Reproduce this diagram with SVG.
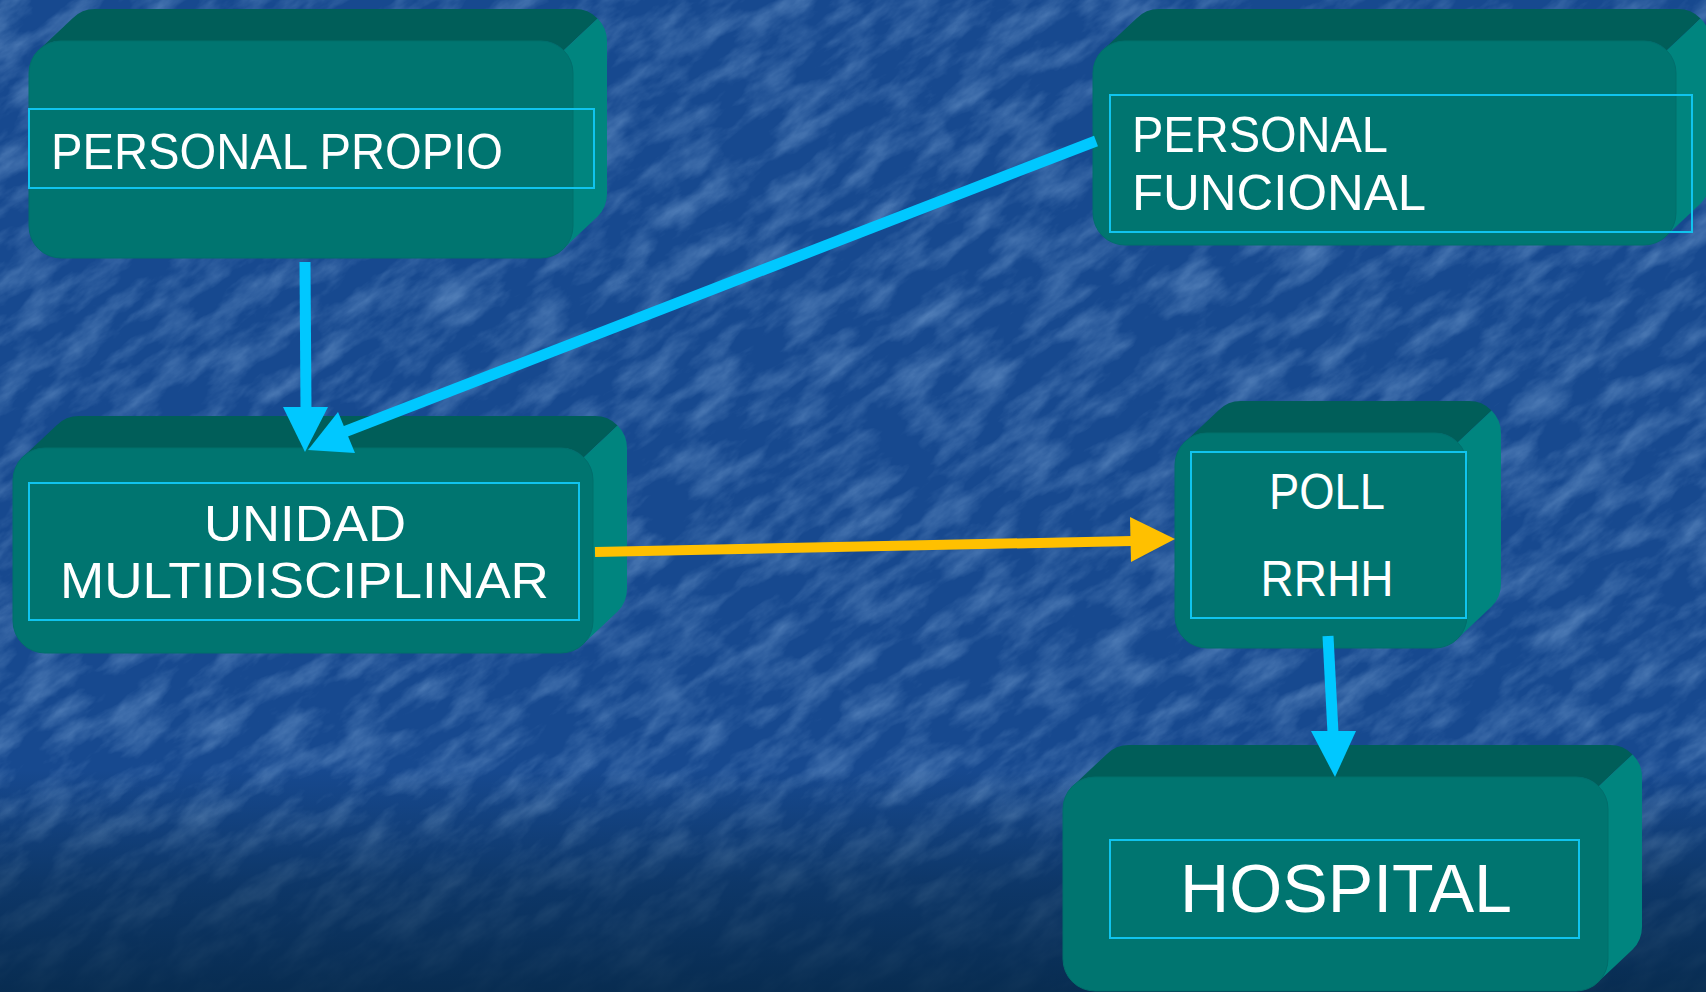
<svg xmlns="http://www.w3.org/2000/svg" width="1706" height="992" viewBox="0 0 1706 992">
<defs>
<style>
.top{fill:#005e59}
.side{fill:#00857f}
.front{fill:#007570;stroke:#00706b;stroke-width:1}
.inner{fill:none;stroke:#10c4ee;stroke-width:2}
.lbl{font-family:"Liberation Sans",Arial,sans-serif;fill:#ffffff;font-size:50px}
.blue{stroke:#00c8ff;stroke-width:11;fill:none}
.bluehead{fill:#00c8ff}
.yellow{stroke:#ffc000;stroke-width:10;fill:none}
.yellowhead{fill:#ffc000}
</style>
<filter id="tex" x="-50%" y="-50%" width="200%" height="200%" filterUnits="objectBoundingBox">
<feTurbulence type="fractalNoise" baseFrequency="0.018 0.045" numOctaves="5" seed="11"/>
<feColorMatrix type="matrix" values="0 0 0 0 0.26  0 0 0 0 0.46  0 0 0 0 0.76  0.9 0 0 0 -0.36"/>
</filter>
<linearGradient id="dark" x1="0" y1="0" x2="0" y2="1">
<stop offset="0" stop-color="#06294a" stop-opacity="0"/>
<stop offset="0.5" stop-color="#06294a" stop-opacity="0.55"/>
<stop offset="1" stop-color="#06294a" stop-opacity="0.9"/>
</linearGradient>
</defs>

<g id="background">
<rect x="0" y="0" width="1706" height="992" fill="#17498f"/>
<g transform="rotate(-35 853 496)">
<rect x="-600" y="-600" width="2906" height="2192" filter="url(#tex)"/>
</g>
<rect x="0" y="770" width="1706" height="222" fill="url(#dark)"/>
</g>

<g id="node-personal-propio" transform="translate(29,41)">
<path class="top" d="M9.4,9.4 L43.4,-22.6 A32,32 0 0 1 66,-32 L546,-32 A32,32 0 0 1 568.6,-22.6 L534.6,9.4 A32,32 0 0 0 512,0 L32,0 A32,32 0 0 0 9.4,9.4 Z"/>
<path class="side" d="M534.6,9.4 L568.6,-22.6 A32,32 0 0 1 578,0 L578,153 A32,32 0 0 1 568.6,175.6 L534.6,207.6 A32,32 0 0 0 544,185 L544,32 A32,32 0 0 0 534.6,9.4 Z"/>
<rect class="front" x="0" y="0" width="544" height="217" rx="32"/>
<rect class="inner" x="0" y="68" width="565" height="79"/>
<text class="lbl" x="22" y="128" textLength="452" lengthAdjust="spacingAndGlyphs">PERSONAL PROPIO</text>
</g>

<g id="node-personal-funcional" transform="translate(1093,41)">
<path class="top" d="M9.4,9.4 L43.4,-22.6 A32,32 0 0 1 66,-32 L585,-32 A32,32 0 0 1 607.6,-22.6 L573.6,9.4 A32,32 0 0 0 551,0 L32,0 A32,32 0 0 0 9.4,9.4 Z"/>
<path class="side" d="M573.6,9.4 L607.6,-22.6 A32,32 0 0 1 617,0 L617,140 A32,32 0 0 1 607.6,162.6 L573.6,194.6 A32,32 0 0 0 583,172 L583,32 A32,32 0 0 0 573.6,9.4 Z"/>
<rect class="front" x="0" y="0" width="583" height="204" rx="32"/>
<rect class="inner" x="17" y="54" width="582" height="137"/>
<text class="lbl" x="39" y="111" textLength="256" lengthAdjust="spacingAndGlyphs">PERSONAL</text>
<text class="lbl" x="39" y="169" textLength="294" lengthAdjust="spacingAndGlyphs">FUNCIONAL</text>
</g>

<g id="node-unidad" transform="translate(13,448)">
<path class="top" d="M9.4,9.4 L43.4,-22.6 A32,32 0 0 1 66,-32 L582,-32 A32,32 0 0 1 604.6,-22.6 L570.6,9.4 A32,32 0 0 0 548,0 L32,0 A32,32 0 0 0 9.4,9.4 Z"/>
<path class="side" d="M570.6,9.4 L604.6,-22.6 A32,32 0 0 1 614,0 L614,141 A32,32 0 0 1 604.6,163.6 L570.6,195.6 A32,32 0 0 0 580,173 L580,32 A32,32 0 0 0 570.6,9.4 Z"/>
<rect class="front" x="0" y="0" width="580" height="205" rx="32"/>
<rect class="inner" x="16" y="35" width="550" height="137"/>
<text class="lbl" x="292" y="93" text-anchor="middle" textLength="202" lengthAdjust="spacingAndGlyphs">UNIDAD</text>
<text class="lbl" x="291.5" y="150" text-anchor="middle" textLength="489" lengthAdjust="spacingAndGlyphs">MULTIDISCIPLINAR</text>
</g>

<g id="node-poll" transform="translate(1175,433)">
<path class="top" d="M9.4,9.4 L43.4,-22.6 A32,32 0 0 1 66,-32 L294,-32 A32,32 0 0 1 316.6,-22.6 L282.6,9.4 A32,32 0 0 0 260,0 L32,0 A32,32 0 0 0 9.4,9.4 Z"/>
<path class="side" d="M282.6,9.4 L316.6,-22.6 A32,32 0 0 1 326,0 L326,151 A32,32 0 0 1 316.6,173.6 L282.6,205.6 A32,32 0 0 0 292,183 L292,32 A32,32 0 0 0 282.6,9.4 Z"/>
<rect class="front" x="0" y="0" width="292" height="215" rx="32"/>
<rect class="inner" x="16" y="19" width="275" height="166"/>
<text class="lbl" x="152" y="76" text-anchor="middle" textLength="116" lengthAdjust="spacingAndGlyphs">POLL</text>
<text class="lbl" x="152" y="163" text-anchor="middle" textLength="133" lengthAdjust="spacingAndGlyphs">RRHH</text>
</g>

<g id="node-hospital" transform="translate(1063,777)">
<path class="top" d="M9.4,9.4 L43.4,-22.6 A32,32 0 0 1 66,-32 L547,-32 A32,32 0 0 1 569.6,-22.6 L535.6,9.4 A32,32 0 0 0 513,0 L32,0 A32,32 0 0 0 9.4,9.4 Z"/>
<path class="side" d="M535.6,9.4 L569.6,-22.6 A32,32 0 0 1 579,0 L579,150 A32,32 0 0 1 569.6,172.6 L535.6,204.6 A32,32 0 0 0 545,182 L545,32 A32,32 0 0 0 535.6,9.4 Z"/>
<rect class="front" x="0" y="0" width="545" height="214" rx="32"/>
<rect class="inner" x="47" y="63" width="469" height="98"/>
<text class="lbl" x="283" y="135" text-anchor="middle" style="font-size:68px" textLength="332" lengthAdjust="spacingAndGlyphs">HOSPITAL</text>
</g>

<g id="connectors">
<line class="blue" x1="305" y1="262" x2="306" y2="410"/>
<polygon class="bluehead" points="283,407 328,407 305,452"/>
<line class="blue" x1="1096" y1="141" x2="344" y2="432"/>
<polygon class="bluehead" points="338,412 355,453 308,450"/>
<line class="yellow" x1="595" y1="552" x2="1132" y2="541"/>
<polygon class="yellowhead" points="1130,517 1131,562 1175,539"/>
<line class="blue" x1="1328" y1="636" x2="1333" y2="733"/>
<polygon class="bluehead" points="1311,731 1356,731 1335,777"/>
</g>
</svg>
